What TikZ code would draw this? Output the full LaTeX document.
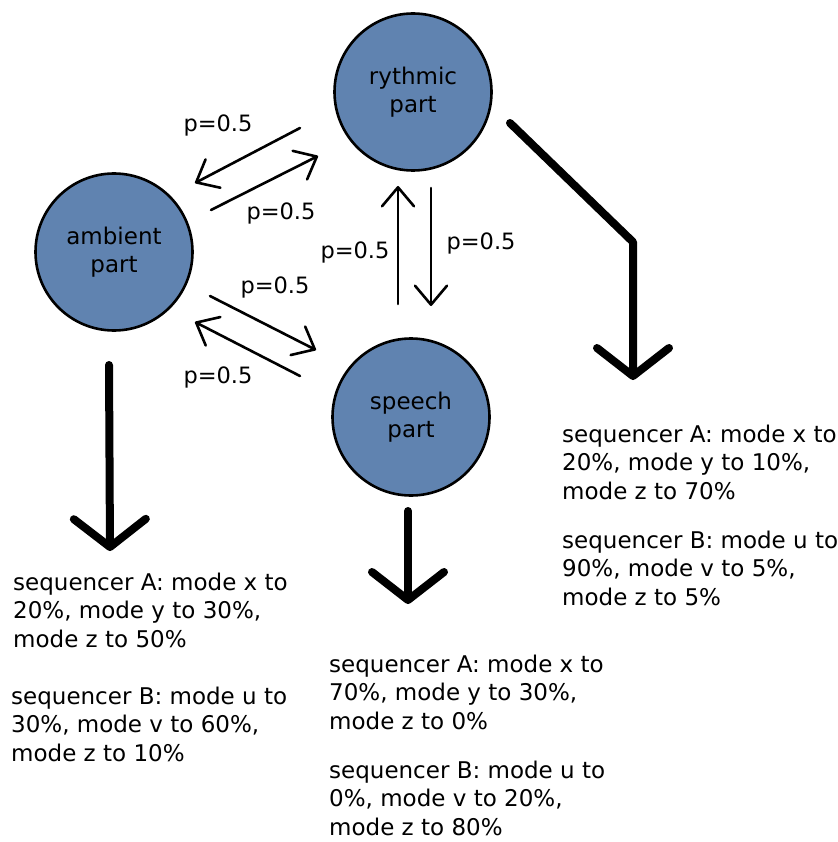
\documentclass[tikz,border=0pt]{standalone}
\usepackage{fontspec}
\setmainfont{DejaVu Sans}
\usetikzlibrary{arrows.meta}
\definecolor{partblue}{RGB}{96,131,176}
\begin{document}
\begin{tikzpicture}[x=1pt,y=-1pt,
  part/.style={circle,draw=black,line width=2.6pt,fill=partblue,minimum size=157pt,
    inner sep=0pt,align=center,font=\fontsize{23}{28}\selectfont},
  flow/.style={line width=2.6pt,line cap=round,-{Straight Barb[length=19pt,width=32pt,round]}},
  emit/.style={line width=8pt,line cap=round,line join=round,-{Straight Barb[length=28pt,width=72pt,round]}},
  prob/.style={font=\fontsize{22.5}{26}\selectfont,inner sep=0pt},
  note/.style={anchor=base west,align=left,inner sep=0pt,font=\fontsize{23}{28.2}\selectfont}]
\useasboundingbox (0,0) rectangle (837,842);

% the three parts
\node[part] (rhy) at (413,92) {rythmic\\part};
\node[part] (amb) at (114,252) {ambient\\part};
\node[part] (spe) at (411,417) {speech\\part};

% transition arrow ends
\coordinate (ra1) at (300,128); \coordinate (ar1) at (195,183);
\coordinate (ar2) at (211,210); \coordinate (ra2) at (318,156);
\coordinate (as1) at (210,296); \coordinate (sa1) at (316,350);
\coordinate (sa2) at (300,376); \coordinate (as2) at (195,322);
\coordinate (sr1) at (398,304); \coordinate (rs1) at (398,186);
\coordinate (rs2) at (431,188); \coordinate (sr2) at (431,306);

\draw[flow] (ra1) -- (ar1);
\draw[flow] (ar2) -- (ra2);
\draw[flow] (as1) -- (sa1);
\draw[flow] (sa2) -- (as2);
\draw[flow] (sr1) -- (rs1);
\draw[flow] (rs2) -- (sr2);

% transition probabilities
\node[prob] (p1) at (218,125) {p=0.5};
\node[prob] (p2) at (281,213) {p=0.5};
\node[prob] (p3) at (355,252) {p=0.5};
\node[prob] (p4) at (481,243) {p=0.5};
\node[prob] (p5) at (275,287) {p=0.5};
\node[prob] (p6) at (218,377) {p=0.5};

% outputs of each part
\coordinate (rstart) at (510,123); \coordinate (rbend) at (633,242); \coordinate (rend) at (633,380);
\coordinate (astart) at (109,365); \coordinate (aend) at (110,551);
\coordinate (sstart) at (408,511); \coordinate (send) at (408,604);
\draw[emit] (rstart) -- (rbend) -- (rend);
\draw[emit] (astart) -- (aend);
\draw[emit] (sstart) -- (send);

% sequencer settings (anchored on the baseline of the last line)
\node[note] (ra) at (562,499) {sequencer A: mode x to\\20\%, mode y to 10\%,\\mode z to 70\%};
\node[note] (rb) at (562,605) {sequencer B: mode u to\\90\%, mode v to 5\%,\\mode z to 5\%};
\node[note] (aa) at (13,647) {sequencer A: mode x to\\20\%, mode y to 30\%,\\mode z to 50\%};
\node[note] (ab) at (11,761) {sequencer B: mode u to\\30\%, mode v to 60\%,\\mode z to 10\%};
\node[note] (sa) at (329,729) {sequencer A: mode x to\\70\%, mode y to 30\%,\\mode z to 0\%};
\node[note] (sb) at (329,835) {sequencer B: mode u to\\0\%, mode v to 20\%,\\mode z to 80\%};
\end{tikzpicture}
\end{document}
